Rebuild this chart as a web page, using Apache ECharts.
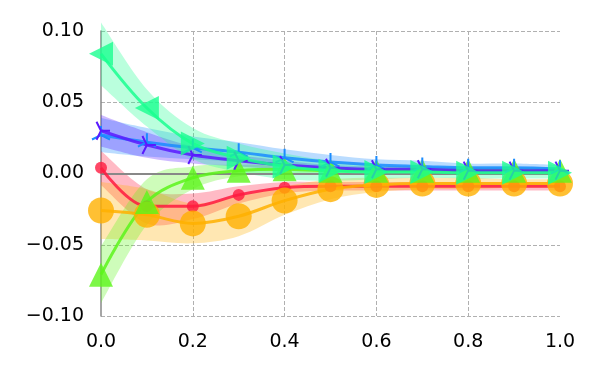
<!DOCTYPE html>
<html>
<head>
<meta charset="utf-8">
<script src="https://cdn.jsdelivr.net/npm/echarts@6/dist/echarts.min.js"></script>
<style>
  html, body { margin: 0; padding: 0; background: #fff; }
  #chart { width: 600px; height: 375px; }
</style>
</head>
<body>
<div id="chart"></div>
<script>
// x positions shared by every curve
const xs = [0, 0.1, 0.2, 0.3, 0.4, 0.5, 0.6, 0.7, 0.8, 0.9, 1.0];

// means
const redY    = [0.004, -0.023, -0.023, -0.015, -0.010, -0.009, -0.009, -0.009, -0.009, -0.009, -0.009];
const orangeY = [-0.026, -0.029, -0.035, -0.030, -0.019, -0.011, -0.008, -0.007, -0.007, -0.007, -0.007];
const limeY   = [-0.071, -0.020, -0.003, 0.002, 0.003, 0.002, 0.002, 0.002, 0.002, 0.002, 0.002];
const blueY   = [0.027, 0.022, 0.018, 0.015, 0.011, 0.008, 0.006, 0.005, 0.004, 0.004, 0.003];
const purpleY = [0.030, 0.020, 0.013, 0.009, 0.006, 0.004, 0.003, 0.003, 0.002, 0.002, 0.002];
const mintY   = [0.084, 0.046, 0.021, 0.011, 0.005, 0.002, 0.001, 0.001, 0.0005, 0.0005, 0.0005];

// half widths of the shaded bands
const redErr    = [0.012, 0.012, 0.009, 0.006, 0.004, 0.003, 0.003, 0.003, 0.003, 0.003, 0.003];
const orangeErr = [0.020, 0.018, 0.014, 0.014, 0.010, 0.007, 0.005, 0.004, 0.004, 0.003, 0.003];
const limeErr   = [0.020, 0.016, 0.008, 0.004, 0.003, 0.002, 0.002, 0.002, 0.002, 0.002, 0.002];
const blueErr   = [0.012, 0.010, 0.008, 0.007, 0.006, 0.005, 0.004, 0.004, 0.003, 0.003, 0.003];
const purpleErr = [0.011, 0.009, 0.006, 0.004, 0.003, 0.002, 0.002, 0.002, 0.002, 0.002, 0.002];
const mintErr   = [0.022, 0.013, 0.011, 0.010, 0.009, 0.007, 0.005, 0.004, 0.004, 0.004, 0.004];

// mint markers point left for the first two points, right after
const mintRotate = [90, 90, -90, -90, -90, -90, -90, -90, -90, -90, -90];

const yTickLabels = ['\u22120.10', '\u22120.05', '0.00', '0.05', '0.10'];
const xTickLabels = ['0.0', '0.2', '0.4', '0.6', '0.8', '1.0'];

const chart = echarts.init(document.getElementById('chart'));

// tri markers (lines only)
const triUp = 'path://M10,10 L10,0 M10,10 L1.34,15 M10,10 L18.66,15 M10,20 L10,20.01';
const triRight = 'path://M10,10 L20,10 M10,10 L5,1.34 M10,10 L5,18.66 M0,10 L0.01,10';

// catmull-rom -> bezier path through pixel points
const splinePath = (pts, start) => {
  let d = start ? 'M' + pts[0][0] + ',' + pts[0][1] : 'L' + pts[0][0] + ',' + pts[0][1];
  for (let i = 0; i < pts.length - 1; i++) {
    const p0 = pts[Math.max(i - 1, 0)], p1 = pts[i], p2 = pts[i + 1], p3 = pts[Math.min(i + 2, pts.length - 1)];
    const c1 = [p1[0] + (p2[0] - p0[0]) / 6, p1[1] + (p2[1] - p0[1]) / 6];
    const c2 = [p2[0] - (p3[0] - p1[0]) / 6, p2[1] - (p3[1] - p1[1]) / 6];
    d += ' C' + c1.join(',') + ' ' + c2.join(',') + ' ' + p2.join(',');
  }
  return d;
};

// 误差带：custom series 画一个闭合区域
const band = (ys, err, color) => ({
  type: 'custom', silent: true, z: 1,
  data: [0],
  renderItem: (params, api) => {
    const up = xs.map((x, i) => api.coord([x, ys[i] + err[i]]));
    const lo = xs.map((x, i) => api.coord([x, ys[i] - err[i]])).reverse();
    const d = splinePath(up, true) + ' ' + splinePath(lo, false) + ' Z';
    return { type: 'path', shape: { pathData: d }, style: { fill: color, opacity: 0.3 } };
  },
});

const curve = (ys, color, symbol, size, extra) => ({
  type: 'line', smooth: 0.35, symbol, symbolSize: size, z: 3,
  lineStyle: { color, width: 3, opacity: 0.85 },
  itemStyle: Object.assign({ color, opacity: 0.8 }, extra || {}),
  data: xs.map((x, i) => [x, ys[i]]),
});

const red = '#ff1a40', orange = '#ffb000', lime = '#5cf51a',
      blue = '#1a8cff', purple = '#5a1aff', mint = '#1aff90';

const series = [
  band(redY, redErr, red),
  band(orangeY, orangeErr, orange),
  band(limeY, limeErr, lime),
  band(blueY, blueErr, blue),
  band(purpleY, purpleErr, purple),
  band(mintY, mintErr, mint),
  curve(redY, red, 'circle', 12),
  curve(orangeY, orange, 'circle', 26),
  curve(limeY, lime, 'triangle', 24),
  curve(blueY, blue, triUp, 18, { color: 'none', borderColor: blue, borderWidth: 2, opacity: 1 }),
  curve(purpleY, purple, triRight, 18, { color: 'none', borderColor: purple, borderWidth: 2, opacity: 1 }),
];
const mintSeries = curve(mintY, mint, 'triangle', 24);
mintSeries.data = xs.map((x, i) => ({ value: [x, mintY[i]], symbolRotate: mintRotate[i] }));
series.push(mintSeries);

// 0 处的实线
series[6].markLine = {
  silent: true, symbol: 'none', label: { show: false }, z: 2,
  lineStyle: { color: '#888', width: 2, type: 'solid' },
  data: [{ yAxis: 0 }],
};

chart.setOption({
  animation: false,
  grid: { left: 101, right: 40, top: 31, bottom: 59 },
  xAxis: {
    type: 'value', min: 0, max: 1, interval: 0.2,
    axisLine: { show: false },
    axisTick: { show: false },
    axisLabel: {
      margin: 17, fontFamily: 'DejaVu Sans', fontSize: 19, color: '#000',
      formatter: (v) => xTickLabels[Math.round(v / 0.2)],
    },
    splitLine: {
      lineStyle: { color: ['none', '#b0b0b0', '#b0b0b0', '#b0b0b0', '#b0b0b0', 'none'], type: [4, 2], width: 1 },
    },
  },
  yAxis: {
    type: 'value', min: -0.1, max: 0.1, interval: 0.05,
    axisLine: { show: true, lineStyle: { color: '#888', width: 1.5 } },
    axisTick: { show: false },
    axisLabel: {
      margin: 17, fontFamily: 'DejaVu Sans', fontSize: 19, color: '#000',
      formatter: (v) => yTickLabels[Math.round((v + 0.1) / 0.05)],
    },
    splitLine: { lineStyle: { color: '#b0b0b0', type: [4, 2], width: 1 } },
  },
  series,
});
</script>
</body>
</html>
